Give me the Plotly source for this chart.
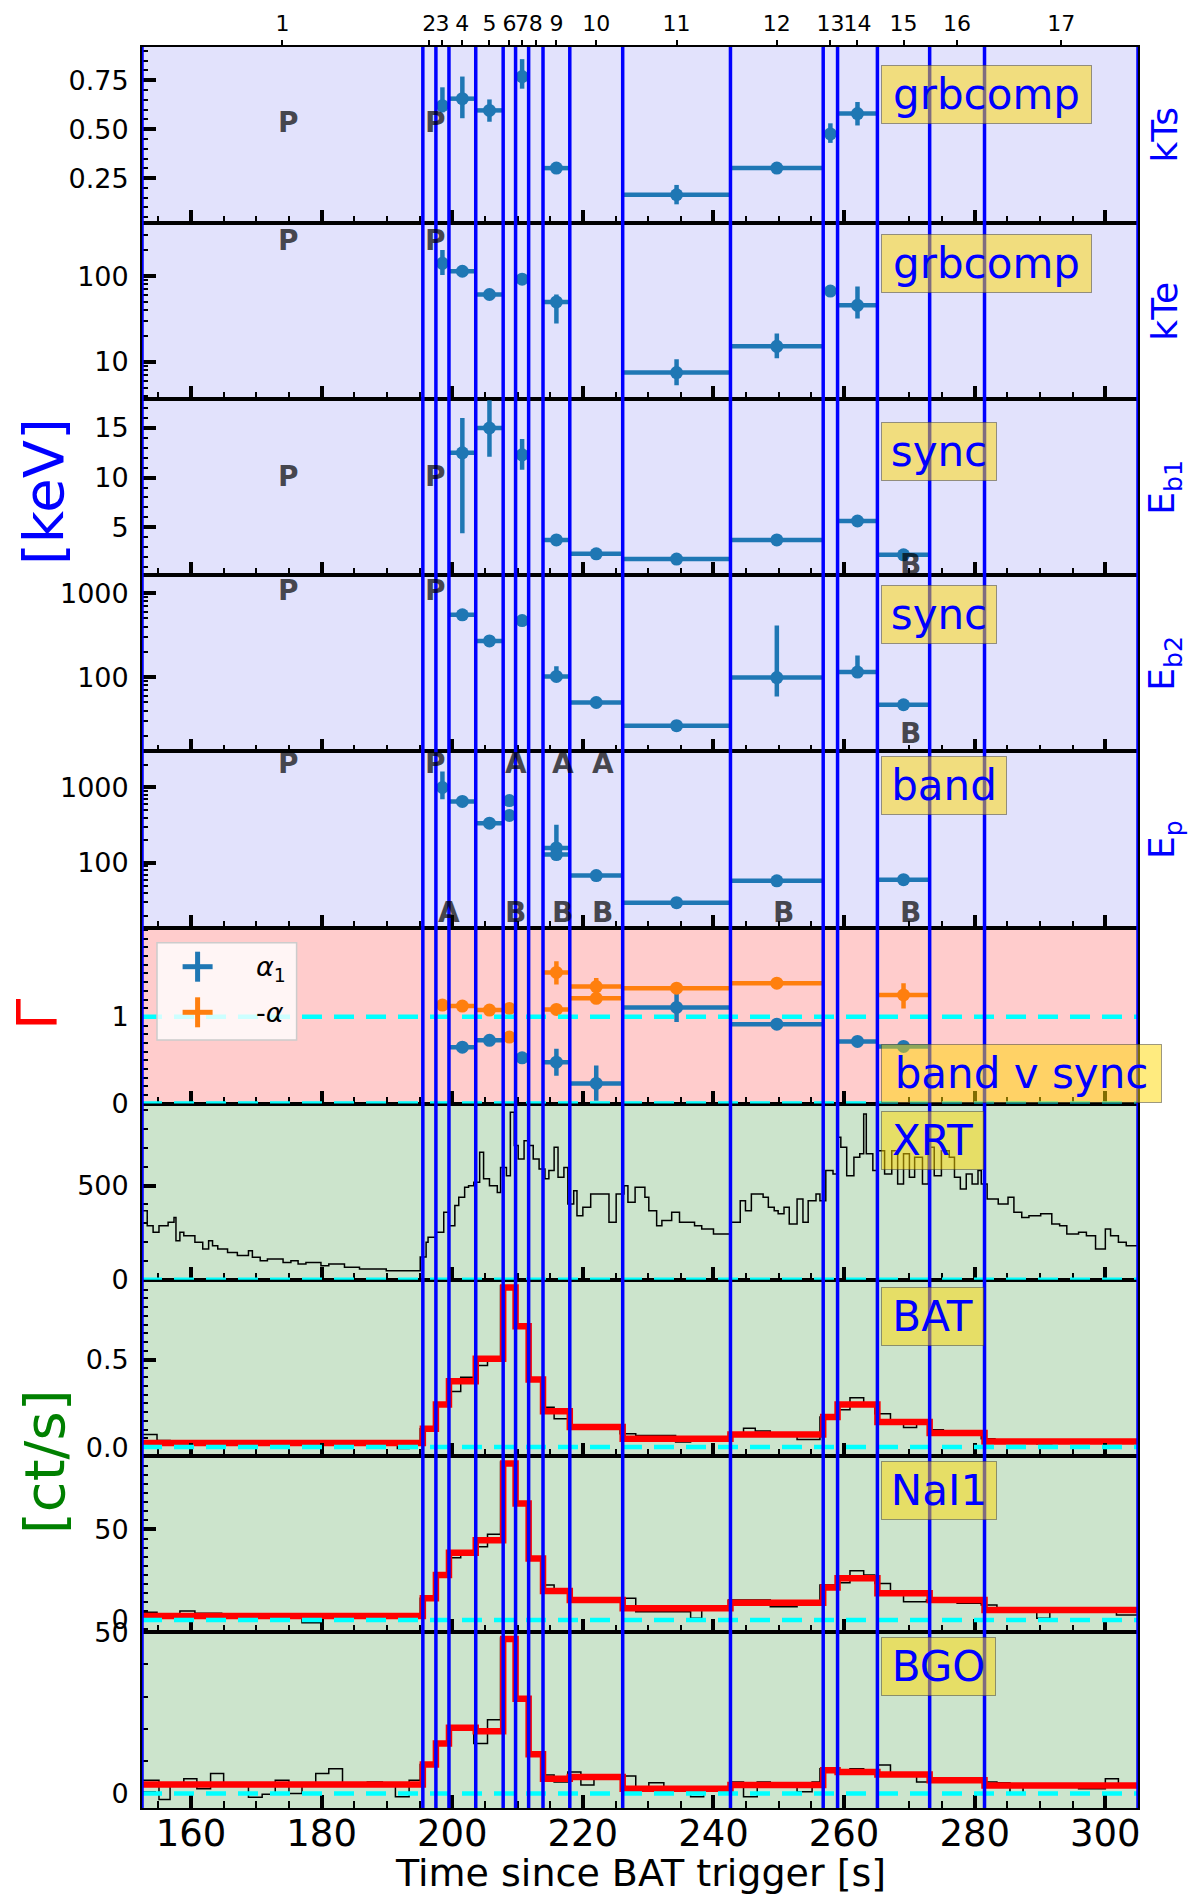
import plotly.graph_objects as go
from plotly.subplots import make_subplots

# ---------------- data ----------------
edges = [152.5, 195.5, 197.5, 199.5, 203.6, 207.8, 209.7, 211.7, 213.9, 218.0,
         226.1, 242.6, 256.8, 259.0, 265.1, 273.1, 281.5, 305.0]
interval_labels = [str(i) for i in range(1, 18)]

kts_int = [3, 4, 5, 7, 9, 11, 12, 13, 14]
kts_val = [0.62, 0.656, 0.596, 0.769, 0.301, 0.165, 0.301, 0.476, 0.58]
kts_up = [0.094, 0.113, 0.056, 0.089, 0.012, 0.05, 0.008, 0.054, 0.059]
kts_dn = [0.034, 0.10, 0.058, 0.062, 0.012, 0.049, 0.008, 0.046, 0.061]

kte_int = [3, 4, 5, 7, 9, 11, 12, 13, 14]
kte_val = [141, 114, 61, 92, 50, 7.5, 15.2, 67, 45.6]
kte_up = [60, 10, 4, 6, 11, 3.2, 6.2, 3, 30]
kte_dn = [38, 10, 4, 6, 22, 2.15, 4.2, 3, 13.6]

eb1_int = [4, 5, 7, 9, 10, 11, 12, 14, 15]
eb1_val = [12.5, 15.0, 12.3, 3.72, 2.32, 1.79, 3.72, 5.63, 2.22]
eb1_up = [3.5, 2.8, 1.6, 0.3, 0.2, 0.2, 0.2, 0.2, 0.2]
eb1_dn = [8.1, 2.9, 1.5, 0.3, 0.2, 0.2, 0.2, 0.2, 0.2]

eb2_int = [4, 5, 7, 9, 10, 11, 12, 14, 15]
eb2_val = [552, 270, 472, 102, 50, 26.5, 99, 115, 47]
eb2_up = [70, 20, 60, 33, 4, 2, 312, 66, 3]
eb2_dn = [50, 20, 50, 13, 4, 2, 40, 12, 3]

ep_int = [3, 4, 5, 6, 6, 9, 9, 10, 11, 12, 15]
ep_val = [1000, 653, 337, 670, 427, 158, 129, 68, 29.8, 58, 60]
ep_up = [625, 40, 25, 40, 30, 163, 10, 5, 2, 4, 4]
ep_dn = [300, 40, 25, 40, 30, 25, 10, 5, 2, 4, 4]

alpha1_int = [4, 5, 7, 9, 10, 11, 12, 14, 15]
alpha1_val = [0.651, 0.729, 0.528, 0.477, 0.233, 1.109, 0.915, 0.717, 0.659]
alpha1_up = [0.03, 0.03, 0.02, 0.155, 0.207, 0.155, 0.02, 0.03, 0.02]
alpha1_dn = [0.03, 0.03, 0.02, 0.155, 0.20, 0.167, 0.02, 0.03, 0.02]

malpha_int = [3, 4, 5, 6, 6, 9, 9, 10, 10, 11, 12, 15]
malpha_val = [1.136, 1.124, 1.078, 1.097, 0.767, 1.512, 1.086, 1.349, 1.214, 1.330, 1.388, 1.252]
malpha_up = [0.02, 0.02, 0.02, 0.02, 0.02, 0.13, 0.02, 0.10, 0.05, 0.03, 0.04, 0.136]
malpha_dn = [0.02, 0.02, 0.02, 0.02, 0.02, 0.14, 0.02, 0.10, 0.05, 0.03, 0.04, 0.155]

# model count rates per interval
bat_model = [0.023, 0.105, 0.243, 0.376, 0.504, 0.912, 0.69, 0.386, 0.205, 0.114,
             0.048, 0.072, 0.171, 0.243, 0.143, 0.08, 0.032]
nai_model = [2.2, 12, 24.8, 37.1, 44.1, 86.4, 64.3, 34, 16, 11, 6.4, 9.5, 18, 23, 14.7, 11, 5.5]
bgo_model = [2.8, 9, 15.5, 20.4, 19.3, 47.9, 29.4, 12.2, 4.6, 5.1, 1.5, 2.6, 7.2, 6.7, 5.9, 4.1, 2.5]

# observed light curves (bin edges, rates)
xrt_edges = [152.5, 153.3, 154.2, 155.1, 156.5, 157.4, 157.7, 158.3, 158.9, 160.6, 161.8, 162.7,
             163.3, 164.1, 165.6, 167.1, 168.8, 169.4, 170.6, 171.7, 174.1, 175.3, 176.4, 177.6,
             179.9, 181.1, 183.5, 185.8, 189.9, 195.1, 196.0, 196.3, 197.5, 198.7, 199.5, 200.4,
             201.0, 201.9, 202.5, 203.3, 204.2, 204.8, 205.7, 206.9, 207.4, 208.3, 208.9, 209.5,
             210.1, 211.0, 211.8, 212.4, 213.3, 214.2, 214.8, 215.6, 216.2, 217.1, 217.7, 218.6,
             219.1, 220.0, 221.2, 224.0, 225.1, 226.3, 226.9, 228.0, 229.5, 230.1, 231.3, 232.1,
             233.6, 234.8, 237.1, 238.2, 240.0, 242.6, 244.1, 244.9, 245.8, 247.6, 248.4, 249.3,
             249.9, 250.8, 251.6, 252.8, 253.7, 254.5, 255.7, 256.3, 257.2, 258.3, 258.9, 259.5,
             260.4, 261.5, 262.4, 263.0, 263.4, 264.4, 265.0, 266.2, 267.3, 268.2, 269.1, 270.0,
             270.8, 272.0, 272.9, 273.8, 274.9, 276.1, 276.9, 277.8, 278.7, 279.6, 280.5, 281.0,
             281.9, 283.6, 285.1, 286.0, 287.2, 288.3, 290.1, 291.8, 293.0, 294.1, 295.9, 297.1,
             298.5, 300.0, 300.8, 302.0, 303.2, 305.0]
xrt_rate = [367, 287, 252, 287, 305, 331, 207, 252, 234, 199, 163, 207,
            181, 163, 145, 128, 154, 119, 101, 110, 92, 101, 83, 92,
            74, 83, 66, 57, 48, 120, 199, 225, 252, 358, 287, 394,
            438, 491, 500, 518, 677, 536, 500, 464, 597, 553, 890, 713,
            642, 739, 713, 642, 589, 536, 580, 704, 544, 597, 403, 473,
            340, 385, 456, 305, 456, 500, 411, 491, 438, 367, 287, 314,
            358, 305, 287, 270, 243, 305, 420, 367, 456, 438, 385, 367,
            350, 385, 296, 429, 305, 420, 456, 420, 580, 562, 757, 704,
            553, 651, 669, 881, 669, 580, 686, 562, 686, 509, 669, 544,
            651, 509, 704, 553, 686, 651, 544, 482, 562, 509, 580, 509,
            429, 403, 438, 358, 331, 340, 350, 296, 287, 243, 252, 234,
            163, 270, 234, 199, 181]

bat_edges = [152.5, 154.8, 156.8, 191.6, 193.4, 195.1, 197.2, 199.2, 201.3, 203.3, 205.4, 207.4,
             209.5, 211.8, 213.9, 215.6, 217.7, 222.5, 225.7, 228.1, 234.2, 236.5, 242.3, 244.6,
             246.4, 248.7, 252.8, 256.3, 258.9, 260.9, 263.0, 264.7, 267.1, 269.1, 271.1, 273.2,
             275.2, 281.0, 283.1, 289.5, 291.8, 300.0, 302.3, 305.0]
bat_rate = [0.072, 0.038, 0.022, -0.008, 0.02, 0.105, 0.245, 0.318, 0.399, 0.466, 0.513, 0.922,
            0.694, 0.39, 0.228, 0.162, 0.114, 0.124, 0.076, 0.066, 0.029, 0.048, 0.076, 0.108,
            0.092, 0.072, 0.043, 0.171, 0.213, 0.282, 0.248, 0.19, 0.137, 0.111, 0.133, 0.099,
            0.076, 0.048, 0.038, 0.019, 0.038, 0.029, 0.038]

nai_edges = [152.5, 154.8, 158.3, 160.6, 164.7, 174.7, 177.0, 179.9, 191.6, 195.1, 197.2, 199.2,
             201.3, 203.3, 205.4, 207.4, 209.5, 211.8, 213.9, 215.6, 217.7, 222.5, 228.1, 236.5,
             238.2, 242.3, 248.7, 252.8, 256.3, 258.9, 260.9, 263.0, 264.7, 267.1, 269.1, 272.6,
             277.3, 281.0, 283.4, 289.5, 291.5, 301.7, 305.0]
nai_rate = [4.2, 2.2, 5.0, 3.7, 2.2, 0.9, -1.5, 2.2, 1.0, 12, 24.8, 34.4,
            36.8, 40.4, 47.4, 87.3, 64.3, 34.9, 19.3, 14.7, 11, 12, 4.6, 0.9,
            6.4, 11, 7.3, 9.2, 19.3, 20.6, 27.2, 24.8, 20.2, 13.8, 10.1, 11,
            9.2, 8.3, 5.5, 0.9, 5.5, 2.8]

bgo_edges = [152.5, 155.1, 156.8, 158.9, 160.9, 163.0, 165.0, 168.8, 170.9, 172.9, 175.0, 177.0,
             179.1, 181.1, 183.2, 187.0, 189.3, 191.3, 193.4, 195.1, 197.2, 199.2, 203.3, 205.4,
             207.4, 209.5, 211.8, 213.9, 215.6, 217.7, 219.7, 221.7, 228.1, 230.1, 232.4, 236.5,
             238.5, 242.6, 244.6, 246.7, 248.7, 252.8, 255.1, 256.3, 258.9, 260.9, 263.0, 265.0,
             267.1, 269.1, 271.1, 273.2, 281.0, 283.4, 285.4, 287.4, 292.4, 295.9, 300.0, 302.0,
             305.0]
bgo_rate = [4.1, -1.9, 3.3, 4.6, 1.5, 6.2, 2.6, -1.2, -0.2, 4.1, 0.0,
            3.1, 6.2, 7.7, 2.6, 3.6, 2.6, -1.0, 4.1, 9, 15.6, 20.6, 15.5,
            22.9, 48.2, 29.4, 12.2, 5.7, 3.6, 6.7, 2.6, 5.4, 1.0, 3.3, 1.0,
            -1.0, 2.0, 3.6, -1.0, 3.6, 3.1, 0.5, 3.6, 7.7, 6.7, 7.7, 6.2,
            8.8, 6.2, 5.7, 3.6, 4.6, 3.6, 3.3, 0.2, 2.6, 2.0, 1.5, 4.6,
            2.6]

# ---------------- helpers ----------------
centers = [(a + b) / 2 for a, b in zip(edges[:-1], edges[1:])]
halfw = [(b - a) / 2 for a, b in zip(edges[:-1], edges[1:])]
FONT = "DejaVu Sans"
BLUE = "#1f77b4"
ORANGE = "#ff7f0e"


def pts(idx):
    return [centers[i - 1] for i in idx], [halfw[i - 1] for i in idx]


def errtrace(idx, val, up, dn, color):
    xs, hw = pts(idx)
    return go.Scatter(
        x=xs, y=val, mode="markers", showlegend=False, hoverinfo="skip",
        marker=dict(size=13, color=color),
        error_x=dict(type="data", array=hw, thickness=4.5, width=0, color=color),
        error_y=dict(type="data", symmetric=False, array=up, arrayminus=dn,
                     thickness=4.5, width=0, color=color),
    )


def step(e, v, color, width):
    return go.Scatter(x=e, y=list(v) + [v[-1]], mode="lines", line_shape="hv",
                      line=dict(color=color, width=width), showlegend=False,
                      hoverinfo="skip")


fig = make_subplots(rows=10, cols=1, shared_xaxes=True, vertical_spacing=0)

fig.add_trace(errtrace(kts_int, kts_val, kts_up, kts_dn, BLUE), row=1, col=1)
fig.add_trace(errtrace(kte_int, kte_val, kte_up, kte_dn, BLUE), row=2, col=1)
fig.add_trace(errtrace(eb1_int, eb1_val, eb1_up, eb1_dn, BLUE), row=3, col=1)
fig.add_trace(errtrace(eb2_int, eb2_val, eb2_up, eb2_dn, BLUE), row=4, col=1)
fig.add_trace(errtrace(ep_int, ep_val, ep_up, ep_dn, BLUE), row=5, col=1)
fig.add_trace(errtrace(alpha1_int, alpha1_val, alpha1_up, alpha1_dn, BLUE), row=6, col=1)
fig.add_trace(errtrace(malpha_int, malpha_val, malpha_up, malpha_dn, ORANGE), row=6, col=1)

fig.add_trace(step(xrt_edges, xrt_rate, "black", 1.5), row=7, col=1)
fig.add_trace(step(bat_edges, bat_rate, "black", 1.5), row=8, col=1)
fig.add_trace(step(edges, bat_model, "red", 6.5), row=8, col=1)
fig.add_trace(step(nai_edges, nai_rate, "black", 1.5), row=9, col=1)
fig.add_trace(step(edges, nai_model, "red", 6.5), row=9, col=1)
fig.add_trace(step(bgo_edges, bgo_rate, "black", 1.5), row=10, col=1)
fig.add_trace(step(edges, bgo_model, "red", 6.5), row=10, col=1)

# dummy trace for the top interval-number axis
fig.add_trace(go.Scatter(x=[centers[0]], y=[None], xaxis="x11", yaxis="y",
                         showlegend=False, hoverinfo="skip", mode="markers"))

# ---------------- axes ----------------
logminor = [m * 10 ** k for k in range(0, 4) for m in range(2, 10)]
yconf = [
    dict(type="linear", range=[0.02, 0.92], tickvals=[0.25, 0.5, 0.75],
         ticktext=["0.25", "0.50", "0.75"], minor=dict(dtick=0.05, tick0=0)),
    dict(type="log", range=[0.565, 2.618], tickvals=[10, 100], ticktext=["10", "100"],
         minor=dict(tickvals=logminor)),
    dict(type="linear", range=[0.16, 17.9], tickvals=[5, 10, 15], ticktext=["5", "10", "15"],
         minor=dict(dtick=1, tick0=0)),
    dict(type="log", range=[1.117, 3.212], tickvals=[100, 1000], ticktext=["100", "1000"],
         minor=dict(tickvals=logminor)),
    dict(type="log", range=[1.145, 3.478], tickvals=[100, 1000], ticktext=["100", "1000"],
         minor=dict(tickvals=logminor)),
    dict(type="linear", range=[0, 2.03], tickvals=[0, 1], ticktext=["0", "1"],
         minor=dict(dtick=0.1, tick0=0)),
    dict(type="linear", range=[0, 936], tickvals=[0, 500], ticktext=["0", "500"],
         minor=dict(dtick=100, tick0=0)),
    dict(type="linear", range=[-0.05, 0.956], tickvals=[0, 0.5], ticktext=["0.0", "0.5"],
         minor=dict(dtick=0.05, tick0=0)),
    dict(type="linear", range=[-6.6, 90.7], tickvals=[0, 50], ticktext=["0", "50"],
         minor=dict(dtick=5, tick0=0)),
    dict(type="linear", range=[-4.5, 50.1], tickvals=[0, 50], ticktext=["0", "50"],
         minor=dict(dtick=10, tick0=0)),
]
for i, yc in enumerate(yconf):
    mn = dict(ticks="inside", ticklen=6, tickwidth=2, tickcolor="black")
    mn.update(yc.pop("minor"))
    fig.update_yaxes(row=i + 1, col=1, showgrid=False, zeroline=False, showline=True,
                     mirror=True, linecolor="black", linewidth=1.8, ticks="inside",
                     ticklen=14, tickwidth=3.5, tickcolor="black", tickangle=0,
                     tickfont=dict(family=FONT, size=27, color="black"),
                     ticklabelstandoff=6, minor=mn, **yc)

fig.update_xaxes(range=[152.5, 305], showgrid=False, zeroline=False, showline=True,
                 mirror=True, linecolor="black", linewidth=1.8, ticks="inside",
                 tick0=0, dtick=20, ticklen=13, tickwidth=3.5, tickcolor="black",
                 tickangle=0, tickfont=dict(family=FONT, size=37, color="black"),
                 minor=dict(ticks="inside", dtick=5, tick0=0, ticklen=7, tickwidth=2,
                            tickcolor="black"))
fig.update_xaxes(row=10, col=1, showticklabels=True, ticklabelstandoff=-8)

fig.update_layout(
    xaxis11=dict(overlaying="x", anchor="y", side="top", range=[152.5, 305],
                 tickvals=centers, ticktext=interval_labels, ticks="outside",
                 ticklen=6, tickwidth=2, tickcolor="black", tickangle=0,
                 showgrid=False, zeroline=False, showline=False,
                 tickfont=dict(family=FONT, size=22, color="black")),
)

# ---------------- shapes ----------------
shapes = []
bgs = ["#e2e2fc"] * 5 + ["#ffcccc"] + ["#cce4cc"] * 4
for i, c in enumerate(bgs):
    ya = "y" if i == 0 else f"y{i + 1}"
    shapes.append(dict(type="rect", xref="paper", yref=f"{ya} domain", x0=0, x1=1,
                       y0=0, y1=1, fillcolor=c, line=dict(width=0), layer="below"))

cyan_rows = [(6, 1), (6, 0), (7, 0), (8, 0), (9, 0), (10, 0)]
for r, v in cyan_rows:
    shapes.append(dict(type="line", xref="paper", yref=f"y{r}", x0=0, x1=1, y0=v, y1=v,
                       line=dict(color="#00ffff", width=4.5, dash="20px,12px"),
                       layer="above"))

for e in edges:
    shapes.append(dict(type="line", xref="x", yref="paper", x0=e, x1=e, y0=0, y1=1,
                       line=dict(color="#0000ff", width=3.5), layer="above"))

# manual legend in the Gamma panel
W, H, L, T = 996.0, 1761.0, 142.0, 47.0


def px(xp):
    return (xp - L) / W


def py(yp):
    return (T + H - yp) / H


shapes.append(dict(type="rect", xref="paper", yref="paper", x0=px(157), x1=px(296.6),
                   y0=py(1040), y1=py(942.7), fillcolor="rgba(255,255,255,0.8)",
                   line=dict(color="#cccccc", width=1.5), layer="above"))
for cy, col in [(966.7, BLUE), (1012.3, ORANGE)]:
    shapes.append(dict(type="line", xref="paper", yref="paper", x0=px(182.6), x1=px(212.6),
                       y0=py(cy), y1=py(cy), line=dict(color=col, width=5), layer="above"))
    shapes.append(dict(type="line", xref="paper", yref="paper", x0=px(197.6), x1=px(197.6),
                       y0=py(cy - 15), y1=py(cy + 15), line=dict(color=col, width=5),
                       layer="above"))

fig.update_layout(shapes=shapes)

# ---------------- annotations ----------------
ann = []


def yd(row):
    return ("y" if row == 1 else f"y{row}") + " domain"


# model label boxes
boxes = [(1, "grbcomp", 0.895, 211), (2, "grbcomp", 0.936, 211), (3, "sync", 0.871, 116),
         (4, "sync", 0.946, 116), (5, "band", 0.974, 126), (6, "band v sync", 0.336, 281),
         (7, "XRT", 0.956, 103), (8, "BAT", 0.960, 103), (9, "NaI1", 0.970, 116),
         (10, "BGO", 0.973, 115)]
for r, txt, yy, wbox in boxes:
    ann.append(dict(text=txt, xref="x", x=265.65, xanchor="left", yref=yd(r), y=yy,
                    yanchor="top", showarrow=False, width=wbox - 10, borderpad=4,
                    bgcolor="rgba(255,215,0,0.5)", bordercolor="rgba(60,60,60,0.5)",
                    borderwidth=1, font=dict(family=FONT, size=42, color="#0000ff")))

# P / A / B solution markers
PB = "rgba(0,0,0,0.7)"
letters = [(1, 1, "P", 0.571), (1, 2, "P", 0.571), (2, 1, "P", 0.903), (2, 2, "P", 0.903),
           (3, 1, "P", 0.559), (3, 2, "P", 0.559), (3, 15, "B", 0.06),
           (4, 1, "P", 0.914), (4, 2, "P", 0.914), (4, 15, "B", 0.10),
           (5, 1, "P", 0.929), (5, 2, "P", 0.929), (5, 6, "A", 0.929), (5, 9, "A", 0.929),
           (5, 10, "A", 0.929), (5, 3, "A", 0.083), (5, 6, "B", 0.083), (5, 9, "B", 0.083),
           (5, 10, "B", 0.083), (5, 12, "B", 0.083), (5, 15, "B", 0.083)]
for r, k, txt, yy in letters:
    ann.append(dict(text=f"<b>{txt}</b>", xref="x", x=centers[k - 1], xanchor="left",
                    xshift=-6, yref=yd(r), y=yy, yanchor="middle", showarrow=False,
                    font=dict(family=FONT, size=28, color=PB)))

# right-hand parameter names
rlab = ["kTs", "kTe", "E<sub>b1</sub>", "E<sub>b2</sub>", "E<sub>p</sub>"]
for i, t in enumerate(rlab):
    ann.append(dict(text=t, xref="paper", x=px(1164.5), xanchor="center", yref=yd(i + 1),
                    y=0.5, yanchor="middle", textangle=-90, showarrow=False,
                    font=dict(family=FONT, size=36, color="#0000ff")))

# left group labels
ann.append(dict(text="[keV]", xref="paper", x=px(44), xanchor="center", yref="paper",
                y=py(492), yanchor="middle", textangle=-90, showarrow=False,
                font=dict(family=FONT, size=56, color="#0000ff")))
ann.append(dict(text="Γ", xref="paper", x=px(36), xanchor="center", yref="paper",
                y=py(1015), yanchor="middle", textangle=-90, showarrow=False,
                font=dict(family=FONT, size=56, color="red")))
ann.append(dict(text="[ct/s]", xref="paper", x=px(44), xanchor="center", yref="paper",
                y=py(1462), yanchor="middle", textangle=-90, showarrow=False,
                font=dict(family=FONT, size=56, color="green")))

# legend text
ann.append(dict(text="<i>α</i><sub>1</sub>", xref="paper", x=px(254), xanchor="left",
                yref="paper", y=py(968), yanchor="middle", showarrow=False,
                font=dict(family=FONT, size=27, color="black")))
ann.append(dict(text="-<i>α</i>", xref="paper", x=px(254), xanchor="left",
                yref="paper", y=py(1012), yanchor="middle", showarrow=False,
                font=dict(family=FONT, size=27, color="black")))

# x-axis title
ann.append(dict(text="Time since BAT trigger [s]", xref="paper", x=0.5, xanchor="center",
                yref="paper", y=py(1873), yanchor="middle", showarrow=False,
                font=dict(family=FONT, size=38, color="black")))

fig.update_layout(
    annotations=ann,
    width=1197, height=1898,
    margin=dict(l=142, r=59, t=47, b=90),
    paper_bgcolor="white", plot_bgcolor="white",
    showlegend=False,
    font=dict(family=FONT),
)

fig.write_html("out.html")
